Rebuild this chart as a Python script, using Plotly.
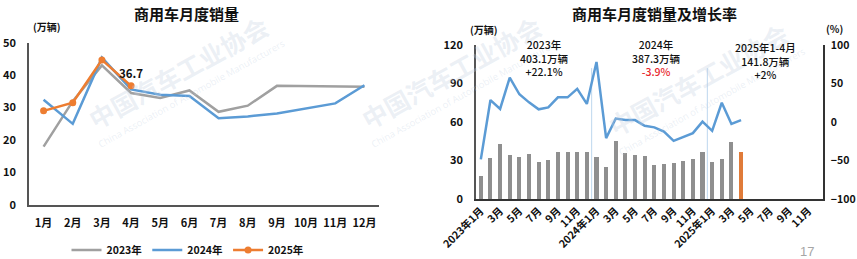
import plotly.graph_objects as go

W, H = 857, 259

# ---------------- data ----------------
months = ["1月", "2月", "3月", "4月", "5月", "6月", "7月", "8月", "9月", "10月", "11月", "12月"]
sales_2023 = [18.0, 32.0, 43.0, 34.5, 33.0, 35.3, 28.7, 30.6, 36.7, 36.6, 36.6, 36.4]
sales_2024 = [32.4, 25.0, 45.4, 35.6, 34.0, 33.6, 26.7, 27.3, 28.2, 29.7, 31.3, 36.9]
sales_2025 = [29.0, 31.5, 44.7, 36.7]
label_2025_apr = "36.7"

years = ["2023年", "2024年", "2025年"]
growth_2023 = [-48.5, 28.5, 17.0, 57.5, 36.0, 25.5, 16.5, 19.0, 32.0, 32.0, 43.0, 23.5]
growth_2024 = [78.0, -21.0, 4.5, 2.5, 2.5, -5.0, -7.0, -12.5, -24.5, -19.0, -14.5, 0.5]
growth_2025 = [-11.5, 25.0, -2.5, 2.5]

summary_texts = [
    "2023年<br>403.1万辆<br>+22.1%",
    "2024年<br>387.3万辆<br><span style='color:#E8262C'>-3.9%</span>",
    "2025年1-4月<br>141.8万辆<br>+2%",
]

# ---------------- derived ----------------
n_cat = 36
cat_idx = list(range(n_cat))
cat_labels = [f"{years[i // 12]}{months[i % 12]}" if i % 12 == 0 else months[i % 12] for i in range(n_cat)]
bar_values = sales_2023 + sales_2024 + sales_2025
growth_values = growth_2023 + growth_2024 + growth_2025
bar_x = cat_idx[:len(bar_values)]
bar_colors = ["#8F8F8F"] * (len(bar_values) - 1) + ["#E07B39"]

GRAY = "#A0A0A0"
BLUE = "#5B9BD5"
ORANGE = "#ED7D31"
FONT = "Noto Sans CJK SC"
AX = "#555555"

def px(xp):
    return xp / W

def py(yp):
    return 1 - yp / H

fig = go.Figure()

# left chart lines
fig.add_trace(go.Scatter(x=months, y=sales_2023, mode="lines", name="2023年",
                         line=dict(color=GRAY, width=2.5), xaxis="x", yaxis="y"))
fig.add_trace(go.Scatter(x=months, y=sales_2024, mode="lines", name="2024年",
                         line=dict(color=BLUE, width=2.5), xaxis="x", yaxis="y"))
fig.add_trace(go.Scatter(x=months[:len(sales_2025)], y=sales_2025, mode="lines+markers", name="2025年",
                         line=dict(color=ORANGE, width=2.5), marker=dict(size=7, color=ORANGE),
                         xaxis="x", yaxis="y"))

# right chart bars + growth
fig.add_trace(go.Bar(x=bar_x, y=bar_values, marker=dict(color=bar_colors, line=dict(width=0)),
                     width=0.42, showlegend=False, xaxis="x2", yaxis="y2"))
fig.add_trace(go.Scatter(x=bar_x, y=growth_values, mode="lines", line=dict(color=BLUE, width=2.5),
                         showlegend=False, xaxis="x2", yaxis="y3"))

tickfont = dict(family=FONT, size=11, color="#111111", weight="bold")

fig.update_layout(
    template="none",
    width=W, height=H,
    margin=dict(l=0, r=0, t=0, b=0, pad=0, autoexpand=False),
    paper_bgcolor="white", plot_bgcolor="rgba(0,0,0,0)",
    font=dict(family=FONT, color="#111111"),
    bargap=0,
    xaxis=dict(domain=[px(29), px(379)], type="category", showgrid=False, showline=True,
               linecolor=AX, linewidth=1.5, ticks="", tickfont=tickfont, anchor="y",
               range=[-0.5, 11.5], automargin=False, zeroline=False, ticklabelstandoff=7),
    yaxis=dict(domain=[py(205), py(42.7)], range=[0, 50], dtick=10, showgrid=False,
               showline=True, linecolor=AX, linewidth=1.5, ticks="", tickfont=tickfont,
               anchor="x", zeroline=False, automargin=False, ticklabelstandoff=9),
    xaxis2=dict(domain=[px(476), px(823)], range=[-0.5, 35.5], showgrid=False, showline=True,
                linecolor="#333333", linewidth=1.5, ticks="", tickmode="array",
                tickvals=cat_idx[::2], ticktext=cat_labels[::2], tickangle=-45,
                tickfont=dict(family=FONT, size=10.5, color="#111111", weight="bold"),
                anchor="y2", zeroline=False, automargin=False),
    yaxis2=dict(domain=[py(199), py(45)], range=[0, 120], dtick=30, showgrid=False,
                showline=True, linecolor=AX, linewidth=1.5, ticks="", tickfont=tickfont,
                anchor="x2", zeroline=False, automargin=False, ticklabelstandoff=9),
    yaxis3=dict(overlaying="y2", side="right", range=[-100, 100], dtick=50, showgrid=False,
                showline=True, linecolor="#333333", linewidth=1.5, ticks="",
                tickfont=dict(family=FONT, size=10.5, color="#111111", weight="bold"),
                anchor="x2", zeroline=False, automargin=False, ticklabelstandoff=4),
    legend=dict(orientation="h", x=px(188), y=py(250), xanchor="center", yanchor="middle",
                font=dict(family=FONT, size=10.5, color="#111111", weight="bold"),
                itemwidth=30, bgcolor="rgba(0,0,0,0)", tracegroupgap=0),
)

# separator lines in right chart
for sep in [11.5, 23.5]:
    fig.add_shape(type="line", xref="x2", yref="y2", x0=sep, x1=sep, y0=0, y1=102,
                  line=dict(color="#BDD7EE", width=1), layer="below")

ann = []
def add_text(text, x, y, size, weight="bold", color="#111111", family=FONT, angle=0, **kw):
    ann.append(dict(text=text, xref="paper", yref="paper", x=px(x), y=py(y), showarrow=False,
                    xanchor="center", yanchor="middle", textangle=angle,
                    font=dict(family=family, size=size, color=color, weight=weight), **kw))

# watermarks (tiled)
wm_color = "rgba(195,207,225,0.32)"
for cx, cy in [(178, 72), (451, 72), (698, 79)]:
    add_text("中国汽车工业协会", cx, cy, 25, color=wm_color, angle=-29)
    add_text("China Association of Automobile Manufacturers", cx + 14, cy + 22, 9.5,
             weight="normal", color=wm_color, family="Open Sans", angle=-29)

# titles
add_text("商用车月度销量", 186, 13, 15)
add_text("商用车月度销量及增长率", 654, 13, 15)
# unit labels
add_text("(万辆)", 47, 26, 10)
add_text("(万辆)", 484, 29, 10)
add_text("(%)", 834, 28, 10)
# data label
ann.append(dict(text=label_2025_apr, xref="x", yref="y", x=months[len(sales_2025) - 1],
                y=sales_2025[-1], yshift=13, showarrow=False, xanchor="center", yanchor="middle",
                font=dict(family=FONT, size=11.5, color="#111111", weight="bold")))
# summary annotations
for txt, cx, cy in zip(summary_texts, [544, 656, 765], [58, 58, 61]):
    add_text(txt, cx, cy, 10.5, weight=500, align="center")
# page number
add_text("17", 807, 251, 13, weight="normal", color="#A6A6A6", family="Liberation Sans")

fig.update_layout(annotations=ann)

fig.write_html("out.html")
